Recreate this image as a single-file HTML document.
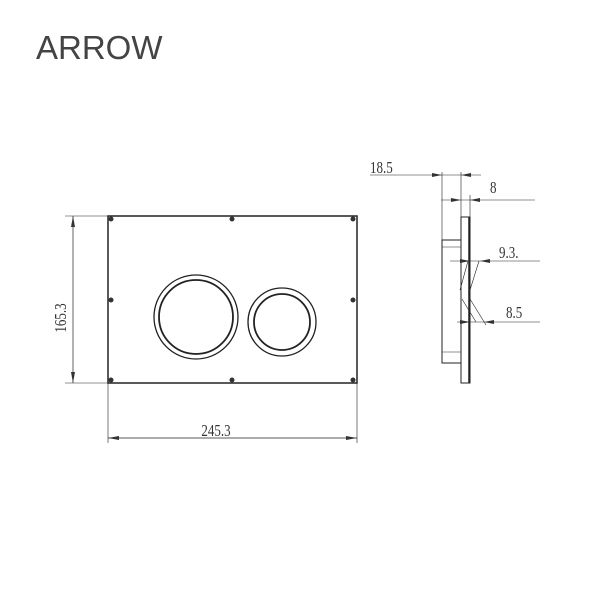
<!DOCTYPE html>
<html><head><style>body{margin:0;background:#fff}svg{display:block}</style></head><body>
<svg width="600" height="600" viewBox="0 0 600 600" xmlns="http://www.w3.org/2000/svg">
<text x="36" y="59" font-family="Liberation Sans, sans-serif" font-size="33" fill="#444">ARROW</text>
<g stroke="#222" fill="none" stroke-width="1">
<rect x="108" y="216" width="249" height="167" stroke-width="1.5"/>
<circle cx="196" cy="317" r="42" stroke-width="1.3"/>
<circle cx="196" cy="317" r="37" stroke-width="1.8"/>
<circle cx="282" cy="322" r="34" stroke-width="1.3"/>
<circle cx="282" cy="322" r="28" stroke-width="1.8"/>
<line x1="65" y1="216" x2="108" y2="216" stroke-width="0.6"/>
<line x1="65" y1="383" x2="108" y2="383" stroke-width="0.6"/>
<line x1="73" y1="216" x2="73" y2="383" stroke-width="0.7"/>
<line x1="108" y1="383" x2="108" y2="443" stroke-width="0.6"/>
<line x1="357" y1="383" x2="357" y2="443" stroke-width="0.6"/>
<line x1="108" y1="438" x2="357" y2="438" stroke-width="0.7"/>
<line x1="370" y1="175" x2="481" y2="175" stroke-width="0.6"/>
<line x1="441" y1="200" x2="535" y2="200" stroke-width="0.6"/>
<line x1="442" y1="172" x2="442" y2="240" stroke-width="0.6"/>
<line x1="461" y1="172" x2="461" y2="217" stroke-width="0.6"/>
<line x1="470" y1="195" x2="470" y2="217" stroke-width="0.6"/>
<rect x="461" y="217" width="9" height="166" stroke-width="1"/>
<line x1="469" y1="217" x2="469" y2="383" stroke-width="1.5"/>
<rect x="442" y="240" width="19" height="123"/>
<line x1="442" y1="247" x2="461" y2="247" stroke-width="0.6"/>
<line x1="442" y1="352" x2="461" y2="352" stroke-width="0.6"/>
<line x1="450" y1="261" x2="540" y2="261" stroke-width="0.6"/>
<line x1="457" y1="322" x2="540" y2="322" stroke-width="0.6"/>
<line x1="460" y1="290" x2="468" y2="261" stroke-width="0.6"/>
<line x1="470" y1="290" x2="479" y2="261" stroke-width="0.6"/>
<line x1="462" y1="299" x2="476" y2="322" stroke-width="0.6"/>
<line x1="470" y1="299" x2="486" y2="325" stroke-width="0.6"/>
</g>
<g fill="#333">
<circle cx="111" cy="219" r="2.5"/><circle cx="232" cy="219" r="2.5"/><circle cx="353" cy="219" r="2.5"/>
<circle cx="111" cy="300" r="2.5"/><circle cx="353" cy="300" r="2.5"/>
<circle cx="111" cy="380" r="2.5"/><circle cx="232" cy="380" r="2.5"/><circle cx="353" cy="380" r="2.5"/>
<polygon points="73,216 71,227 75,227"/><polygon points="73,383 71,372 75,372"/>
<polygon points="108,438 119,436 119,440"/><polygon points="357,438 346,436 346,440"/>
<polygon points="442,175 432,173 432,177"/><polygon points="461,175 471,173 471,177"/>
<polygon points="461,200 451,198 451,202"/><polygon points="470,200 480,198 480,202"/>
<polygon points="470,261 460,259 460,263"/><polygon points="480,261 490,259 490,263"/>
<polygon points="470,322 460,320 460,324"/><polygon points="484,322 494,320 494,324"/>
</g>
<g font-family="Liberation Serif, serif" font-size="13" fill="#333">
<text transform="translate(66 318) rotate(-90) scale(1 1.3)" text-anchor="middle" y="0">165.3</text>
<text transform="translate(216 436) scale(1 1.3)" text-anchor="middle">245.3</text>
<text transform="translate(370 173) scale(1 1.3)">18.5</text>
<text transform="translate(490 193) scale(1 1.3)">8</text>
<text transform="translate(499 258) scale(1 1.3)">9.3.</text>
<text transform="translate(506 318) scale(1 1.3)">8.5</text>
</g>
</svg>
</body></html>
